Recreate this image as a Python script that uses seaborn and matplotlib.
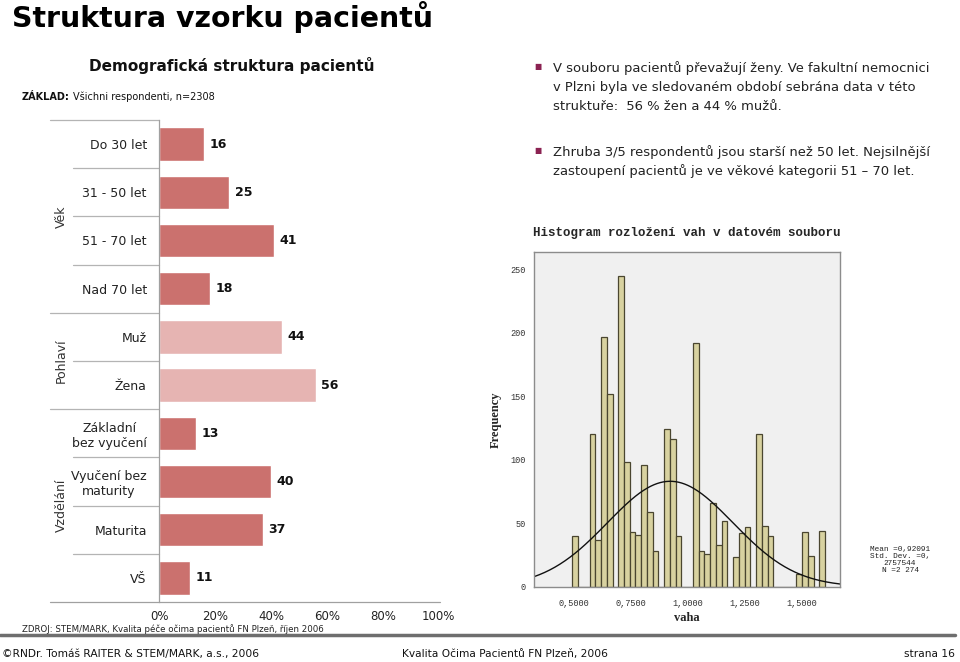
import numpy as np
import pandas as pd
import matplotlib
matplotlib.use("Agg")
import matplotlib.pyplot as plt
import matplotlib.transforms as mtransforms
from matplotlib.lines import Line2D
import seaborn as sns

# ---------------- data: demographic structure (%) ----------------
categories = ["Do 30 let", "31 - 50 let", "51 - 70 let", "Nad 70 let",
              "Muž", "Žena",
              "Základní\nbez vyučení", "Vyučení bez\nmaturity", "Maturita", "VŠ"]
groups = ["Věk", "Věk", "Věk", "Věk",
          "Pohlaví", "Pohlaví",
          "Vzdělání", "Vzdělání", "Vzdělání", "Vzdělání"]
values = [16, 25, 41, 18, 44, 56, 13, 40, 37, 11]
pct_ticks = [0, 20, 40, 60, 80, 100]
pct_tick_labels = ["0%", "20%", "40%", "60%", "80%", "100%"]

# ---------------- data: weight histogram ----------------
hist_start = 0.491
hist_bin_width = 0.02523
hist_counts = [40, 0, 0, 120, 37, 197, 152, 0, 245, 98, 43, 41, 96, 59, 28, 0,
               124, 116, 40, 0, 0, 192, 28, 26, 66, 33, 52, 0, 23, 42, 47, 0,
               120, 48, 40, 0, 0, 0, 0, 10, 43, 24, 0, 44]
hist_mean = 0.92091
hist_sd = 0.2757544
hist_n = 2274
hist_xticks = [0.5, 0.75, 1.0, 1.25, 1.5]
hist_xtick_labels = ["0,5000", "0,7500", "1,0000", "1,2500", "1,5000"]
hist_yticks = [0, 50, 100, 150, 200, 250]

# ---------------- style ----------------
sns.set_style("white")
plt.rcParams["font.family"] = ["DejaVu Sans"]

W, H = 960, 662
fig = plt.figure(figsize=(W / 100, H / 100), dpi=100)
fig.patch.set_facecolor("white")


def fx(px):
    return px / W


def fy(py):
    return 1 - py / H


# ---------------- header texts ----------------
fig.text(fx(12), fy(27), "Struktura vzorku pacientů", fontsize=20.4, fontweight="bold",
         ha="left", va="baseline", color="#000000")
fig.text(fx(232), fy(66), "Demografická struktura pacientů", fontsize=11, fontweight="bold",
         ha="center", va="center", color="#111111")
t_base = fig.text(fx(22), fy(97), "ZÁKLAD:", fontsize=7, fontweight="bold", ha="left",
                  va="center", color="#111111")
fig.canvas.draw()
bb = t_base.get_window_extent()
fig.text(fx(bb.x1 + 3), fy(97), "Všichni respondenti, n=2308", fontsize=7, ha="left",
         va="center", color="#111111")

# ---------------- bar chart ----------------
ax = fig.add_axes([fx(159.3), fy(602), fx(438.7) - fx(159.3), fy(120) - fy(602)])
dark = "#CB716E"
light = "#E6B4B2"
colors = [light if g == "Pohlaví" else dark for g in groups]
df = pd.DataFrame({"category": categories, "value": values, "group": groups})
sns.barplot(data=df, x="value", y="category", hue="category", palette=colors,
            legend=False, orient="h", width=0.69, ax=ax, saturation=1)
ax.set_xlim(0, 100)
ax.set_ylim(len(categories) - 0.5, -0.5)
ax.set_xlabel("")
ax.set_ylabel("")
ax.set_facecolor("white")
for s in ["top", "right", "bottom"]:
    ax.spines[s].set_visible(False)
ax.spines["left"].set_color("#a0a0a0")
ax.spines["left"].set_linewidth(0.9)
ax.set_xticks(pct_ticks)
ax.set_xticklabels(pct_tick_labels, fontsize=8.5, color="#222222")
ax.tick_params(axis="x", length=2, width=0.8, color="#a0a0a0", pad=4, direction="out")
ax.tick_params(axis="y", length=0, pad=9, labelsize=9, labelcolor="#222222")
for lab in ax.get_yticklabels():
    lab.set_multialignment("center")

for i, v in enumerate(values):
    ax.text(v + 2, i, f"{v}", fontsize=9, fontweight="bold", va="center", ha="left",
            color="#111111")

bl = mtransforms.blended_transform_factory(ax.transAxes, ax.transData)
x_inner = (73 - 159.3) / 279.4
x_group = (50 - 159.3) / 279.4
for i in range(1, len(categories)):
    y = i - 0.5
    xs = x_group if groups[i] != groups[i - 1] else x_inner
    ax.plot([xs, 0], [y, y], transform=bl, color="#b4b4b4", lw=0.9, clip_on=False)
ax.plot([x_group, 0], [-0.5, -0.5], transform=bl, color="#b4b4b4", lw=0.9, clip_on=False)
ax.plot([x_group, 1.005], [len(categories) - 0.5] * 2, transform=bl, color="#a0a0a0",
        lw=0.9, clip_on=False)

for g in dict.fromkeys(groups):
    idx = [i for i, gg in enumerate(groups) if gg == g]
    mid = (idx[0] + idx[-1]) / 2
    ax.text((61 - 159.3) / 279.4, mid, g, transform=bl, rotation=90, ha="center",
            va="center", fontsize=9, color="#333333")

fig.text(fx(22), fy(629), "ZDROJ: STEM/MARK, Kvalita péče očima pacientů FN Plzeň, říjen 2006",
         fontsize=6.2, ha="left", va="center", color="#222222")

# ---------------- right bullet text ----------------
bullet_color = "#8B2252"
lines1 = ["V souboru pacientů převažují ženy. Ve fakultní nemocnici",
          "v Plzni byla ve sledovaném období sebrána data v této",
          "struktuře:  56 % žen a 44 % mužů."]
lines2 = ["Zhruba 3/5 respondentů jsou starší než 50 let. Nejsilnější",
          "zastoupení pacientů je ve věkové kategorii 51 – 70 let."]
for block, y0 in [(lines1, 68), (lines2, 152)]:
    fig.text(fx(538), fy(y0 - 2), "■", fontsize=5.5, color=bullet_color, ha="center",
             va="center")
    for k, t in enumerate(block):
        fig.text(fx(553), fy(y0 + k * 19.5), t, fontsize=9.45, ha="left", va="center",
                 color="#222222")

# ---------------- histogram ----------------
ax2 = fig.add_axes([fx(534.3), fy(586.7), fx(840) - fx(534.3), fy(252.3) - fy(586.7)])
nb = len(hist_counts)
edges = [hist_start + k * hist_bin_width for k in range(nb + 1)]
centers = [hist_start + (k + 0.5) * hist_bin_width for k in range(nb)]
sns.histplot(x=centers, weights=hist_counts, bins=edges, ax=ax2, color="#D8D2A0",
             edgecolor="#4A4630", linewidth=0.9, alpha=1)
ax2.set_xlim(0.324, 1.667)
ax2.set_ylim(0, 263.3)
xx = np.linspace(0.324, 1.667, 300)
yy = hist_n * hist_bin_width / (hist_sd * np.sqrt(2 * np.pi)) * np.exp(
    -0.5 * ((xx - hist_mean) / hist_sd) ** 2)
ax2.plot(xx, yy, color="#111111", lw=1.0)
ax2.set_facecolor("#F0F0F0")
for s in ax2.spines.values():
    s.set_color("#8C8C8C")
    s.set_linewidth(1.0)
ax2.set_xticks(hist_xticks)
ax2.set_xticklabels(hist_xtick_labels, fontsize=6.2, family="Liberation Mono", color="#333333")
ax2.set_yticks(hist_yticks)
ax2.set_yticklabels([str(v) for v in hist_yticks], fontsize=6.2, family="Liberation Mono",
                    color="#333333")
ax2.tick_params(axis="both", length=3, width=0.8, color="#555555", pad=3, direction="out")
ax2.tick_params(axis="x", pad=6)
ax2.set_xlabel("vaha", fontsize=9, fontweight="bold", family="Liberation Serif", labelpad=3)
ax2.set_ylabel("Frequency", fontsize=9, fontweight="bold", family="Liberation Serif",
               labelpad=6)
ax2.set_title("Histogram rozložení vah v datovém souboru", fontsize=9, fontweight="bold",
              family="Liberation Mono", pad=12)
ax2.grid(False)

stats = "Mean =0,92091\nStd. Dev. =0,\n2757544\nN =2 274"
fig.text(fx(900), fy(560), stats, fontsize=5.6, family="Liberation Mono", ha="center",
         va="center", color="#222222", linespacing=1.05)

# ---------------- footer ----------------
fig.add_artist(Line2D([0, fx(955)], [fy(635), fy(635)], color="#6E6E6E", lw=2.5,
                      transform=fig.transFigure))
fig.text(fx(2), fy(654), "©RNDr. Tomáš RAITER & STEM/MARK, a.s., 2006", fontsize=7.7,
         ha="left", va="center", color="#111111")
fig.text(fx(505), fy(654), "Kvalita Očima Pacientů FN Plzeň, 2006", fontsize=7.7,
         ha="center", va="center", color="#111111")
fig.text(fx(955), fy(654), "strana 16", fontsize=7.7, ha="right", va="center",
         color="#111111")

fig.savefig("out.png", dpi=100, facecolor="white")
